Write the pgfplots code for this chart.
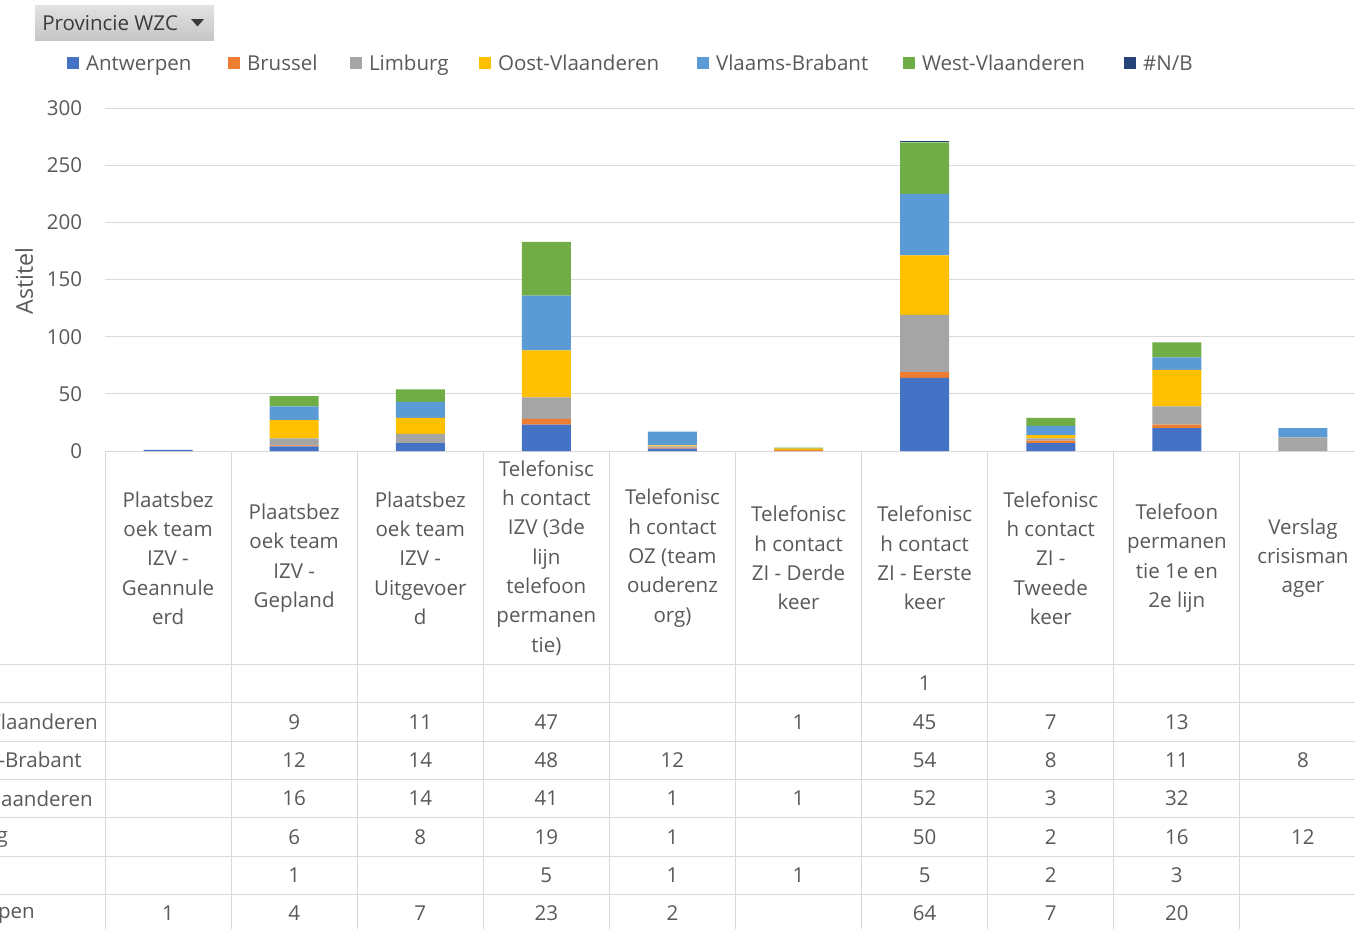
\documentclass[border=0pt]{standalone}
\usepackage{pgfplots}
\pgfplotsset{compat=1.18}
\usepackage{fontspec}
\setmainfont{Open Sans}
\definecolor{cAnt}{HTML}{4472C4}
\definecolor{cBru}{HTML}{ED7D31}
\definecolor{cLim}{HTML}{A5A5A5}
\definecolor{cOos}{HTML}{FFC000}
\definecolor{cVla}{HTML}{5B9BD5}
\definecolor{cWes}{HTML}{70AD47}
\definecolor{cNB}{HTML}{264478}
\definecolor{cGrid}{HTML}{D9D9D9}
\definecolor{cTxt}{HTML}{595959}
\definecolor{cBtnT}{HTML}{E2E2E2}
\definecolor{cBtnB}{HTML}{C6C6C6}
\definecolor{cBtnTxt}{HTML}{3A3A3A}
\newcommand{\fs}{\fontsize{15.4pt}{22pt}\selectfont}
\begin{document}
\fs
\begin{tikzpicture}
\useasboundingbox (0,0) rectangle (1016.25pt,-696pt);
\begin{scope}
\clip (0,0) rectangle (1016.25pt,-696pt);
\begin{axis}[
  at={(78.75pt,-338.25pt)}, anchor=south west,
  scale only axis, width=945.75pt, height=257.25pt,
  ybar stacked, bar width=36.75pt,
  xmin=-0.5, xmax=9.5, ymin=0, ymax=300,
  xtick=\empty, ytick={0,50,...,300},
  ymajorgrids, grid style={draw=cGrid, line width=0.75pt},
  axis lines=left, axis line style={draw=none,-},
  tick style={draw=none}, major tick length=0pt,
  tick label style={font=\fs, text=cTxt},
  /pgf/number format/assume math mode=true,
  yticklabel style={inner sep=0pt, anchor=east, xshift=-17pt},
  ylabel={Astitel},
  ylabel style={at={(axis description cs:-0.0642,0.4956)}, anchor=center, font=\fontsize{17.4pt}{20pt}\selectfont, text=cTxt, inner sep=0pt},
  legend columns=7,
  legend style={at={(axis description cs:-0.0301,1.1312)}, anchor=west,
    draw=none, fill=none, inner sep=0pt, outer sep=0pt, font=\fs, text=cTxt,
    cells={anchor=west}, nodes={inner sep=0pt, text depth=0pt}},
  legend image code/.code={\fill[#1,draw=none] (0pt,-4.5pt) rectangle (9pt,4.5pt);},
]
\addplot[fill=cAnt, draw=none] coordinates {(0,1) (1,4) (2,7) (3,23) (4,2) (5,0) (6,64) (7,7) (8,20) (9,0)};
\addlegendentry{\hspace{5.25pt}\makebox[106.5pt][l]{Antwerpen}}
\addplot[fill=cBru, draw=none] coordinates {(0,0) (1,1) (2,0) (3,5) (4,1) (5,1) (6,5) (7,2) (8,3) (9,0)};
\addlegendentry{\hspace{5.25pt}\makebox[77.25pt][l]{Brussel}}
\addplot[fill=cLim, draw=none] coordinates {(0,0) (1,6) (2,8) (3,19) (4,1) (5,0) (6,50) (7,2) (8,16) (9,12)};
\addlegendentry{\hspace{5.25pt}\makebox[82.5pt][l]{Limburg}}
\addplot[fill=cOos, draw=none] coordinates {(0,0) (1,16) (2,14) (3,41) (4,1) (5,1) (6,52) (7,3) (8,32) (9,0)};
\addlegendentry{\hspace{5.25pt}\makebox[149.25pt][l]{Oost-Vlaanderen}}
\addplot[fill=cVla, draw=none] coordinates {(0,0) (1,12) (2,14) (3,48) (4,12) (5,0) (6,54) (7,8) (8,11) (9,8)};
\addlegendentry{\hspace{5.25pt}\makebox[140.25pt][l]{Vlaams-Brabant}}
\addplot[fill=cWes, draw=none] coordinates {(0,0) (1,9) (2,11) (3,47) (4,0) (5,1) (6,45) (7,7) (8,13) (9,0)};
\addlegendentry{\hspace{5.25pt}\makebox[151.5pt][l]{West-Vlaanderen}}
\addplot[fill=cNB, draw=none] coordinates {(0,0) (1,0) (2,0) (3,0) (4,0) (5,0) (6,1) (7,0) (8,0) (9,0)};
\addlegendentry{\hspace{5.25pt}\#N/B}
\end{axis}
\begin{scope}[x=0.75pt,y=-0.75pt]
  % filter button
  \shade[top color=cBtnT, bottom color=cBtnB] (35,5) rectangle (214,40);
  \node[anchor=west, inner sep=0pt, text=cBtnTxt, font=\fs] at (42,23) {Provincie WZC};
  \fill[cBtnTxt] (191,19) -- (204,19) -- (197.5,26.5) -- cycle;
  % data table grid
  \foreach \i in {0,...,10} \draw[cGrid, line width=0.75pt] ({105+126.1*\i},451) -- ({105+126.1*\i},930);
  \foreach \yy in {664.5,702.8,741.1,779.4,817.7,856,894.3} \draw[cGrid, line width=0.75pt] (0,\yy) -- (1366,\yy);
  % category labels
  \tikzset{cat/.style={align=center, inner sep=0pt, text=cTxt, font=\fs}}
  \node[cat] at (168.05,558) {Plaatsbez\\oek team\\IZV -\\Geannule\\erd};
  \node[cat] at (294.15,558) {Plaatsbez\\oek team\\IZV -\\Gepland};
  \node[cat] at (420.25,558) {Plaatsbez\\oek team\\IZV -\\Uitgevoer\\d};
  \node[cat] at (546.35,558) {Telefonisc\\h contact\\IZV (3de\\lijn\\telefoon\\permanen\\tie)};
  \node[cat] at (672.45,558) {Telefonisc\\h contact\\OZ (team\\ouderenz\\org)};
  \node[cat] at (798.55,558) {Telefonisc\\h contact\\ZI - Derde\\keer};
  \node[cat] at (924.65,558) {Telefonisc\\h contact\\ZI - Eerste\\keer};
  \node[cat] at (1050.75,558) {Telefonisc\\h contact\\ZI -\\Tweede\\keer};
  \node[cat] at (1176.85,558) {Telefoon\\permanen\\tie 1e en\\2e lijn};
  \node[cat] at (1302.95,558) {Verslag\\crisisman\\ager};
  % row labels (cut off at the left edge, as in the reference)
  \tikzset{rl/.style={anchor=east, inner sep=0pt, text=cTxt, font=\fs}}
  \node[rl] at (98,722) {West-Vlaanderen};
  \node[rl] at (82,760.2) {Vlaams-Brabant};
  \node[rl] at (93,798.5) {Oost-Vlaanderen};
  \node[rl] at (8,836.8) {Limburg};
  \node[rl] at (-10,875.2) {Brussel};
  \node[rl] at (35,913.5) {Antwerpen};
  % table values
  \tikzset{tv/.style={anchor=center, inner sep=0pt, text=cTxt, font=\fs}}
  \foreach \c/\v in {6/1} \node[tv] at ({168.05+126.1*\c},683.6) {\v};
  \foreach \c/\v in {1/9,2/11,3/47,5/1,6/45,7/7,8/13} \node[tv] at ({168.05+126.1*\c},722) {\v};
  \foreach \c/\v in {1/12,2/14,3/48,4/12,6/54,7/8,8/11,9/8} \node[tv] at ({168.05+126.1*\c},760.2) {\v};
  \foreach \c/\v in {1/16,2/14,3/41,4/1,5/1,6/52,7/3,8/32} \node[tv] at ({168.05+126.1*\c},798.5) {\v};
  \foreach \c/\v in {1/6,2/8,3/19,4/1,6/50,7/2,8/16,9/12} \node[tv] at ({168.05+126.1*\c},836.8) {\v};
  \foreach \c/\v in {1/1,3/5,4/1,5/1,6/5,7/2,8/3} \node[tv] at ({168.05+126.1*\c},875.2) {\v};
  \foreach \c/\v in {0/1,1/4,2/7,3/23,4/2,6/64,7/7,8/20} \node[tv] at ({168.05+126.1*\c},913.5) {\v};
\end{scope}
\end{scope}
\end{tikzpicture}
\end{document}
